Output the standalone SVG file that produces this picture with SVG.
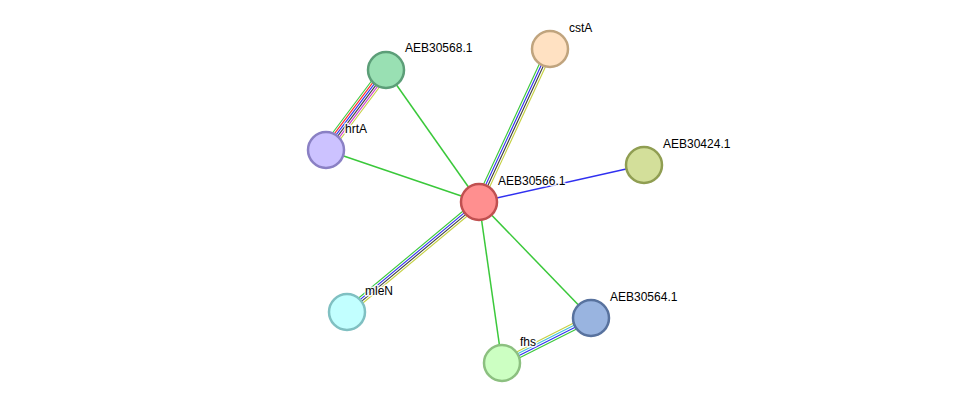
<svg xmlns="http://www.w3.org/2000/svg" width="976" height="409" viewBox="0 0 976 409">
  <style>
    .e { stroke-width: 1.5; fill: none; }
    .m { stroke-width: 1.1; }
    .nb { stroke: #3ac83a; }
    .fu { stroke: #ff2a2a; }
    .co { stroke: #3030f0; }
    .cx { stroke: #404040; }
    .ex { stroke: #d040d0; }
    .db { stroke: #40c0d8; }
    .tm { stroke: #c4d040; }
    .node circle { stroke-width: 2.5; }
    .lbl { font-family: "Liberation Sans", Arial, sans-serif; font-size: 12px; fill: #000; stroke: #fff; stroke-width: 3; stroke-opacity: 0.85; paint-order: stroke; stroke-linejoin: round; }
  </style>
  <rect width="976" height="409" fill="#fff"/>

  <g id="edges">
    <!-- single-evidence edges -->
    <line class="e nb" x1="479" y1="202" x2="386" y2="70"/>
    <line class="e nb" x1="479" y1="202" x2="326" y2="150"/>
    <line class="e nb" x1="479" y1="202" x2="502" y2="363"/>
    <line class="e nb" x1="479" y1="202" x2="591" y2="318"/>
    <line class="e co" x1="479" y1="202" x2="644" y2="165"/>

    <!-- hrtA – AEB30568.1 -->
    <line class="e m nb" x1="322" y1="147" x2="382" y2="67"/>
    <line class="e m fu" x1="323.6" y1="148.2" x2="383.6" y2="68.2"/>
    <line class="e m co" x1="325.2" y1="149.4" x2="385.2" y2="69.4"/>
    <line class="e m cx" x1="326.8" y1="150.6" x2="386.8" y2="70.6"/>
    <line class="e m ex" x1="328.4" y1="151.8" x2="388.4" y2="71.8"/>
    <line class="e m tm" x1="330" y1="153" x2="390" y2="73"/>

    <!-- AEB30566.1 – cstA -->
    <line class="e m nb" x1="476" y1="200.6" x2="547" y2="47.6"/>
    <line class="e m co" x1="478" y1="201.5" x2="549" y2="48.5"/>
    <line class="e m cx" x1="480" y1="202.5" x2="551" y2="49.5"/>
    <line class="e m tm" x1="482" y1="203.4" x2="553" y2="50.4"/>

    <!-- mleN – AEB30566.1 -->
    <line class="e m nb" x1="344.9" y1="309.5" x2="476.9" y2="199.5"/>
    <line class="e m co" x1="346.3" y1="311.2" x2="478.3" y2="201.2"/>
    <line class="e m cx" x1="347.7" y1="312.8" x2="479.7" y2="202.8"/>
    <line class="e m tm" x1="349.1" y1="314.5" x2="481.1" y2="204.5"/>

    <!-- fhs – AEB30564.1 -->
    <line class="e m tm" x1="500.5" y1="360.1" x2="589.5" y2="315.1"/>
    <line class="e m db" x1="501.5" y1="362" x2="590.5" y2="317"/>
    <line class="e m co" x1="502.5" y1="364" x2="591.5" y2="319"/>
    <line class="e m nb" x1="503.5" y1="365.9" x2="592.5" y2="320.9"/>
  </g>

  <g id="AEB30568.1" class="node">
    <circle cx="386" cy="70" r="18" fill="#99e0b3" stroke="#5c9e78"/>
    <text class="lbl" x="405" y="52">AEB30568.1</text>
  </g>
  <g id="hrtA" class="node">
    <circle cx="326" cy="150" r="18" fill="#ccc2ff" stroke="#8a80c4"/>
    <text class="lbl" x="345" y="133">hrtA</text>
  </g>
  <g id="cstA" class="node">
    <circle cx="550" cy="49" r="18" fill="#ffe1c2" stroke="#c0a47e"/>
    <text class="lbl" x="569" y="32">cstA</text>
  </g>
  <g id="AEB30424.1" class="node">
    <circle cx="644" cy="165" r="18" fill="#d3df9a" stroke="#909e52"/>
    <text class="lbl" x="663" y="148">AEB30424.1</text>
  </g>
  <g id="mleN" class="node">
    <circle cx="347" cy="312" r="18" fill="#c2ffff" stroke="#80c0c2"/>
    <text class="lbl" x="365" y="295">mleN</text>
  </g>
  <g id="fhs" class="node">
    <circle cx="502" cy="363" r="18" fill="#ccffc2" stroke="#8cc080"/>
    <text class="lbl" x="520" y="346">fhs</text>
  </g>
  <g id="AEB30564.1" class="node">
    <circle cx="591" cy="318" r="18" fill="#99b4e0" stroke="#58729e"/>
    <text class="lbl" x="610" y="301">AEB30564.1</text>
  </g>
  <g id="AEB30566.1" class="node">
    <circle cx="479" cy="202" r="18" fill="#ff8f8f" stroke="#c05050"/>
    <text class="lbl" x="498" y="185">AEB30566.1</text>
  </g>
</svg>
